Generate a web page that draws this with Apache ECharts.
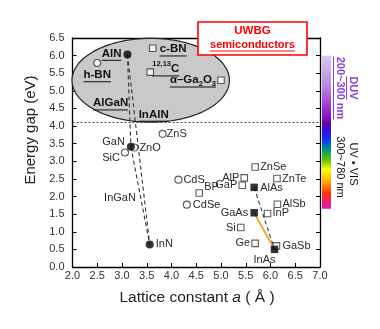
<!DOCTYPE html>
<html><head><meta charset="utf-8">
<script src="https://cdn.jsdelivr.net/npm/echarts@6/dist/echarts.min.js"></script>
<style>html,body{margin:0;padding:0;background:#fff}#c{width:380px;height:329px}</style>
</head><body><div id="c"></div>
<script>
// ---------------- data ----------------
const openCircleNames = ['h-BN','SiC','ZnO','ZnS','CdS','CdSe'];
const openCircleA     = [2.50, 3.06, 3.25, 3.82, 4.14, 4.31];
const openCircleE     = [5.79, 3.25, 3.39, 3.78, 2.48, 1.77];

const filledCircleNames = ['AlN','GaN','InN'];
const filledCircleA     = [3.11, 3.18, 3.56];
const filledCircleE     = [6.03, 3.41, 0.64];

const openSquareNames = ['c-BN','C','α-Ga2O3','BP','AlP','GaP','ZnSe','ZnTe','AlSb','InP','Si','Ge','GaSb'];
const openSquareA     = [3.62, 3.57, 5.00, 4.56, 5.47, 5.43, 5.69, 6.13, 6.14, 5.94, 5.40, 5.69, 6.12];
const openSquareE     = [6.21, 5.53, 5.30, 2.10, 2.53, 2.32, 2.84, 2.51, 1.78, 1.52, 1.12, 0.67, 0.60];

const filledSquareNames = ['AlAs','GaAs','InAs'];
const filledSquareA     = [5.67, 5.67, 6.08];
const filledSquareE     = [2.26, 1.54, 0.50];

const dashedTies = [['AlN','GaN'],['AlN','InN'],['GaN','InN'],['AlAs','InAs']];
const orangeTies = [['GaAs','InAs']];

const alloyNames = ['AlGaN','InAlN','InGaN'];
const alloyA     = [2.77, 3.64, 2.96];
const alloyE     = [4.65, 4.33, 1.95];

const uwbgThreshold = 4.12;
const ellipseCenter = [3.58, 5.30];
const ellipseRadii  = [1.59, 1.19];
const duvRange = [6.0, 4.12];
const visRange = [4.12, 1.65];

const xMin = 2.0, xMax = 7.0, xStep = 0.5;
const yMin = 0.0, yMax = 6.5, yStep = 0.5;

// ---------------- styles ----------------
const FONT = '"Liberation Sans", Arial, sans-serif';
const labelStyle = {
  'AlN':   {dx:-6, dy:-1, align:'right', bold:true, ul:true},
  'h-BN':  {dx:0,  dy:12, align:'center', bold:true, ul:true},
  'c-BN':  {dx:7,  dy:1,  align:'left', bold:true, ul:true},
  'C':     {dx:2,  dy:-3, align:'left', bold:true, ul:true, runs:[{t:'12,13',sup:1},{t:'C'}]},
  'α-Ga2O3': {dx:-5, dy:0, align:'right', bold:true, ul:true, runs:[{t:'α–Ga'},{t:'2',sub:1},{t:'O'},{t:'3',sub:1}]},
  'GaN':   {dx:-6, dy:-5, align:'right'},
  'ZnO':   {dx:5,  dy:0,  align:'left'},
  'SiC':   {dx:-5, dy:5,  align:'right'},
  'ZnS':   {dx:4,  dy:0,  align:'left'},
  'InN':   {dx:6,  dy:0,  align:'left'},
  'CdS':   {dx:5,  dy:0,  align:'left'},
  'CdSe':  {dx:6,  dy:0,  align:'left'},
  'BP':    {dx:5,  dy:-6, align:'left'},
  'AlP':   {dx:-5, dy:0,  align:'right'},
  'GaP':   {dx:-5, dy:0,  align:'right'},
  'ZnSe':  {dx:5,  dy:0,  align:'left'},
  'ZnTe':  {dx:5,  dy:0,  align:'left'},
  'AlAs':  {dx:6,  dy:1,  align:'left'},
  'AlSb':  {dx:5,  dy:0,  align:'left'},
  'GaAs':  {dx:-6, dy:0,  align:'right'},
  'InP':   {dx:5,  dy:0,  align:'left'},
  'Si':    {dx:-5, dy:0,  align:'right'},
  'Ge':    {dx:-5, dy:0,  align:'right'},
  'GaSb':  {dx:6,  dy:0,  align:'left'},
  'InAs':  {dx:-10, dy:11, align:'center'},
  'AlGaN': {dx:0, dy:0, align:'center', bold:true, ul:true},
  'InAlN': {dx:0, dy:0, align:'center', bold:true, ul:true},
  'InGaN': {dx:0, dy:0, align:'center'}
};

// ---------------- helpers ----------------
const mctx = document.createElement('canvas').getContext('2d');
function measure(t, size, bold, italic){
  mctx.font = (italic?'italic ':'') + (bold?'bold ':'') + size + 'px ' + FONT;
  return mctx.measureText(t).width;
}
function zipPts(names, A, E){ return names.map((n,i)=>({name:n, value:[A[i],E[i]]})); }
const allPts = {};
[[openCircleNames,openCircleA,openCircleE],[filledCircleNames,filledCircleA,filledCircleE],
 [openSquareNames,openSquareA,openSquareE],[filledSquareNames,filledSquareA,filledSquareE]].forEach(g=>{
  g[0].forEach((n,i)=>{ allPts[n] = [g[1][i], g[2][i]]; });
});
const labelItems = [];
Object.keys(allPts).forEach(n=>labelItems.push({name:n, value:allPts[n]}));
alloyNames.forEach((n,i)=>labelItems.push({name:n, value:[alloyA[i], alloyE[i]]}));

const chart = echarts.init(document.getElementById('c'), null, {renderer:'canvas'});

function tieSeries(pair, color, type, width){
  return {type:'line', data:[allPts[pair[0]], allPts[pair[1]]], symbol:'none', silent:true, z:3,
    lineStyle:{color:color, type:type, width:width}, animation:false};
}

const axisCommon = {
  type:'value', splitLine:{show:false},
  axisLine:{show:true, onZero:false, lineStyle:{color:'#000', width:1.3}},
  axisTick:{show:true, inside:true, length:4, lineStyle:{color:'#000', width:1}},
};

const series = [];
// ellipse
series.push({
  type:'custom', silent:true, z:1, animation:false,
  data:[[ellipseCenter[0], ellipseCenter[1], ellipseRadii[0], ellipseRadii[1]]],
  encode:{x:0, y:1},
  renderItem:function(params, api){
    const c = api.coord([api.value(0), api.value(1)]);
    const s = api.size([api.value(2), api.value(3)]);
    const pts = [];
    for(let k=0;k<120;k++){ const t = k/120*Math.PI*2; pts.push([c[0]+s[0]*Math.cos(t), c[1]+s[1]*Math.sin(t)]); }
    return {type:'polygon', shape:{points:pts}, style:{fill:'#c9c9c9', stroke:'#222', lineWidth:1.2}};
  },
  markLine:{silent:true, symbol:'none', label:{show:false}, animation:false,
    lineStyle:{color:'#444', type:[2,2], width:1}, data:[{yAxis:uwbgThreshold}]}
});
dashedTies.forEach(p=>series.push(tieSeries(p,'#333',[4,3],1.1)));
orangeTies.forEach(p=>series.push(tieSeries(p,'#f0a030','solid',1.8)));
series.push({type:'scatter', z:4, silent:true, animation:false, symbol:'circle', symbolSize:7,
  itemStyle:{color:'#fff', borderColor:'#333', borderWidth:1.1}, data:zipPts(openCircleNames,openCircleA,openCircleE)});
series.push({type:'scatter', z:5, silent:true, animation:false, symbol:'circle', symbolSize:8,
  itemStyle:{color:'#000'}, data:zipPts(filledCircleNames,filledCircleA,filledCircleE)});
series.push({type:'scatter', z:4, silent:true, animation:false, symbol:'rect', symbolSize:6.5,
  itemStyle:{color:'#fff', borderColor:'#333', borderWidth:1.1}, data:zipPts(openSquareNames,openSquareA,openSquareE)});
series.push({type:'scatter', z:5, silent:true, animation:false, symbol:'rect', symbolSize:7.5,
  itemStyle:{color:'#000'}, data:zipPts(filledSquareNames,filledSquareA,filledSquareE)});
// labels
series.push({
  type:'custom', z:6, silent:true, animation:false, clip:false,
  data:labelItems.map(d=>d.value), encode:{x:0, y:1},
  renderItem:function(params, api){
    const item = labelItems[params.dataIndex];
    const st = labelStyle[item.name] || {dx:5, dy:0, align:'left'};
    const p = api.coord([api.value(0), api.value(1)]);
    const size = st.bold ? 11.5 : 11;
    const color = st.bold ? '#111' : '#2a2a2a';
    const runs = st.runs || [{t:item.name}];
    let total = 0;
    const ws = runs.map(r=>{ const rs = (r.sub||r.sup)?7.5:size; const w = measure(r.t, rs, st.bold); total += w; return w; });
    let x0 = p[0] + st.dx;
    if(st.align==='right') x0 -= total; else if(st.align==='center') x0 -= total/2;
    const y = p[1] + st.dy;
    const children = [];
    let x = x0;
    runs.forEach((r,i)=>{
      const rs = (r.sub||r.sup)?7.5:size;
      children.push({type:'text', style:{text:r.t, x:x, y:y + (r.sub?3.5:(r.sup?-5:0)),
        fontSize:rs, fontFamily:FONT, fontWeight:st.bold?'bold':'normal', fill:color,
        align:'left', verticalAlign:'middle'}});
      x += ws[i];
    });
    if(st.ul){
      const uy = y + size*0.5 + 1;
      children.push({type:'line', shape:{x1:x0, y1:uy, x2:x0+total, y2:uy}, style:{stroke:color, lineWidth:1}});
    }
    return {type:'group', children:children};
  }
});

chart.setOption({
  animation:false,
  backgroundColor:'#fff',
  grid:{left:72.5, right:60, top:38, bottom:62},
  xAxis:[
    Object.assign({}, axisCommon, {min:xMin, max:xMax, interval:xStep, position:'bottom',
      axisLabel:{formatter:v=>v.toFixed(1), fontSize:11, color:'#333', margin:3, fontFamily:FONT}}),
    Object.assign({}, axisCommon, {min:xMin, max:xMax, interval:xStep, position:'top',
      axisTick:{show:false}, axisLabel:{show:false}})
  ],
  yAxis:[
    Object.assign({}, axisCommon, {min:yMin, max:yMax, interval:yStep, position:'left',
      axisLabel:{formatter:v=>v.toFixed(1), fontSize:11, color:'#333', margin:8, fontFamily:FONT}}),
    Object.assign({}, axisCommon, {min:yMin, max:yMax, interval:yStep, position:'right',
      axisLabel:{show:false}})
  ],
  series:series
});

// ---------------- decorations ----------------
const gridRight = chart.convertToPixel({xAxisIndex:0}, xMax);
const yDuvTop = chart.convertToPixel({yAxisIndex:0}, duvRange[0]);
const yMid = chart.convertToPixel({yAxisIndex:0}, duvRange[1]);
const yVisBot = chart.convertToPixel({yAxisIndex:0}, visRange[1]);
const barX = gridRight + 2, barW = 9;

function rotLabel(text, cx, cy, size, bold, color, ul){
  const w = measure(text, size, bold);
  const ch = [{type:'text', style:{text:text, x:0, y:0, fontSize:size, fontFamily:FONT,
      fontWeight:bold?'bold':'normal', fill:color, align:'center', verticalAlign:'middle'}}];
  if(ul) ch.push({type:'line', shape:{x1:-w/2, y1:size*0.5+1, x2:w/2, y2:size*0.5+1}, style:{stroke:color, lineWidth:1}});
  return {type:'group', x:cx, y:cy, rotation:-Math.PI/2, children:ch, z:100};
}

const purple = '#8a3ee0';
const graphics = [
  // colour bar
  {type:'rect', z:100, shape:{x:barX, y:yDuvTop, width:barW, height:yMid-yDuvTop},
    style:{fill:{type:'linear', x:0, y:0, x2:0, y2:1, colorStops:[
      {offset:0, color:'#dccaf0'},{offset:0.45, color:'#b98ae0'},{offset:0.8, color:'#9a30d0'},{offset:1, color:'#8000b8'}]}}},
  {type:'rect', z:100, shape:{x:barX, y:yMid, width:barW, height:yVisBot-yMid},
    style:{fill:{type:'linear', x:0, y:0, x2:0, y2:1, colorStops:[
      {offset:0, color:'#6a00a8'},{offset:0.1, color:'#3010e0'},{offset:0.2, color:'#1030ff'},
      {offset:0.33, color:'#00a070'},{offset:0.45, color:'#70c800'},{offset:0.55, color:'#ffff00'},
      {offset:0.7, color:'#ffa000'},{offset:0.82, color:'#ff3010'},{offset:1, color:'#d818c0'}]}}},
  {type:'line', z:101, shape:{x1:barX, y1:yMid, x2:barX+barW, y2:yMid}, style:{stroke:'#333', lineWidth:1, lineDash:[2,1]}},
  rotLabel('DUV', gridRight+33, 88, 11, true, purple, true),
  rotLabel('200~300 nm', gridRight+20, 88, 11, true, purple, true),
  rotLabel('UV • VIS', gridRight+33, 164, 11, false, '#111', false),
  rotLabel('300~780 nm', gridRight+20, 167, 11, false, '#111', false),
  // UWBG box
  {type:'rect', z:100, shape:{x:198, y:22, width:109, height:33}, style:{fill:'#fff', stroke:'#f00', lineWidth:1.6}},
  {type:'text', z:101, style:{text:'UWBG', x:252.5, y:30.5, fontSize:11.5, fontWeight:'bold', fontFamily:FONT, fill:'#f00', align:'center', verticalAlign:'middle'}},
  {type:'text', z:101, style:{text:'semiconductors', x:252.5, y:44.5, fontSize:11, fontWeight:'bold', fontFamily:FONT, fill:'#f00', align:'center', verticalAlign:'middle'}},
  // axis titles
  {type:'text', z:100, x:31, y:130, rotation:Math.PI/2, style:{text:'Energy gap (eV)', x:0, y:0, fontSize:15, fontFamily:FONT, fill:'#222', align:'center', verticalAlign:'middle'}},
  {type:'text', z:100, style:{text:'{n|Lattice constant }{i|a}{n| ( Å )}', x:197, y:298, align:'center', verticalAlign:'middle',
    rich:{n:{fontSize:15.5, fontFamily:FONT, fill:'#222'}, i:{fontSize:15.5, fontFamily:FONT, fontStyle:'italic', fill:'#222'}}}}
];
// underline for "semiconductors"
const sw = measure('semiconductors', 11, true);
graphics.push({type:'line', z:101, shape:{x1:252.5-sw/2, y1:51, x2:252.5+sw/2, y2:51}, style:{stroke:'#f00', lineWidth:1}});
chart.setOption({graphic:graphics});
</script>
</body></html>
